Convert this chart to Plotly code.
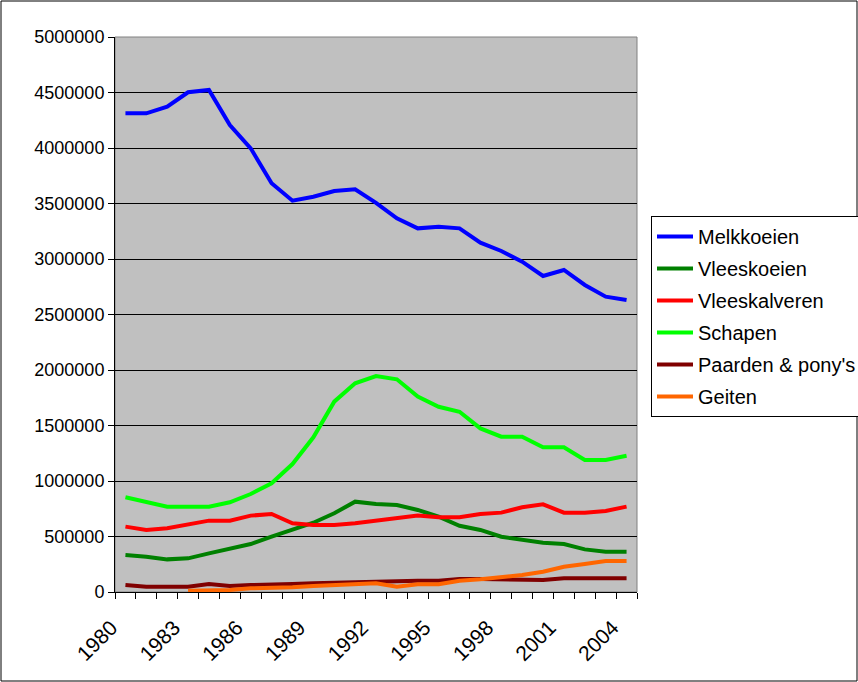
import plotly.graph_objects as go

years = list(range(1980, 2005))

melkkoeien = [4312000, 4312000, 4372000, 4502000, 4523000, 4207000, 3997000, 3682000,
              3525000, 3561000, 3613000, 3628000, 3505000, 3366000, 3276000, 3291000,
              3276000, 3147000, 3072000, 2976000, 2847000, 2901000, 2766000, 2661000,
              2631000]
vleeskoeien = [333000, 318000, 294000, 303000, 348000, 387000, 432000, 498000,
               559000, 624000, 709000, 814000, 793000, 784000, 739000, 678000,
               597000, 559000, 498000, 468000, 444000, 432000, 384000, 363000,
               363000]
vleeskalveren = [589000, 559000, 574000, 604000, 643000, 643000, 688000, 703000,
                 619000, 604000, 604000, 619000, 640000, 658000, 688000, 673000,
                 673000, 703000, 715000, 763000, 790000, 715000, 715000, 730000,
                 769000]
schapen = [853000, 808000, 769000, 769000, 769000, 808000, 883000, 979000,
           1153000, 1394000, 1715000, 1880000, 1946000, 1916000, 1760000, 1669000,
           1624000, 1474000, 1399000, 1399000, 1304000, 1304000, 1189000, 1189000,
           1228000]
paarden = [63000, 48000, 48000, 48000, 72000, 54000, 63000, 72000,
           72000, 78000, 78000, 87000, 93000, 102000, 102000, 102000,
           117000, 117000, 117000, 117000, 108000, 123000, 123000, 123000,
           123000]
geiten = [None, None, None, 12000, 12000, 18000, 33000, 33000,
          42000, 54000, 63000, 78000, 78000, 48000, 69000, 69000,
          102000, 114000, 129000, 153000, 183000, 228000, 252000, 279000,
          279000]

series = [
    ("Melkkoeien", melkkoeien, "#0000FF"),
    ("Vleeskoeien", vleeskoeien, "#008000"),
    ("Vleeskalveren", vleeskalveren, "#FF0000"),
    ("Schapen", schapen, "#00FF00"),
    ("Paarden & pony's", paarden, "#800000"),
    ("Geiten", geiten, "#FF6600"),
]

FONT = "Arial, Liberation Sans, sans-serif"

fig = go.Figure()
for i, (name, vals, color) in enumerate(series):
    fig.add_trace(go.Scatter(
        x=years, y=vals, mode="lines", name=name,
        line=dict(color=color, width=4),
        legendgroup=str(i),
    ))

W, H = 858, 682
L, R, T, B = 115, 221, 37, 90
pw, ph = W - L - R, H - T - B

fig.update_layout(
    width=W, height=H,
    margin=dict(l=L, r=R, t=T, b=B, autoexpand=False),
    paper_bgcolor="white",
    plot_bgcolor="#C0C0C0",
    font=dict(family=FONT, size=18, color="black"),
    showlegend=True,
    legend=dict(
        x=(651 - L) / pw, xanchor="left",
        y=(H - B - 216) / ph, yanchor="top",
        bgcolor="white", bordercolor="black", borderwidth=1,
        font=dict(family=FONT, size=20, color="black"),
        tracegroupgap=3,
        itemwidth=36,
    ),
    xaxis=dict(
        range=[1979.5, 2004.5],
        tickvals=years[::3],
        ticktext=[str(y) for y in years[::3]],
        tickangle=-45,
        ticks="",
        ticklabelstandoff=14,
        ticklabelshift=-14,
        showgrid=False,
        zeroline=False,
        showline=True, linecolor="black", linewidth=1,
        minor=dict(ticks="outside", tick0=1979.5, dtick=1, ticklen=6,
                   tickcolor="black", showgrid=False),
        tickfont=dict(size=21),
    ),
    yaxis=dict(
        range=[0, 5000000],
        dtick=500000,
        tickformat="d",
        ticks="outside", ticklen=6, tickcolor="black",
        showgrid=True, gridcolor="black", gridwidth=1,
        zeroline=False,
        showline=True, linecolor="black", linewidth=1,
        tickfont=dict(size=18),
    ),
    shapes=[
        dict(type="rect", xref="paper", yref="paper", x0=0, x1=1, y0=0, y1=1,
             line=dict(color="#808080", width=1), layer="below"),
        dict(type="rect", xref="paper", yref="paper",
             x0=(-L + 1) / pw, x1=(W - L - 1) / pw,
             y0=(-B + 1) / ph, y1=(H - B - 1) / ph,
             line=dict(color="black", width=1), layer="below"),
    ],
)

fig.write_html("out.html", config={"displayModeBar": False},
               post_script="document.body.style.margin='0';")
